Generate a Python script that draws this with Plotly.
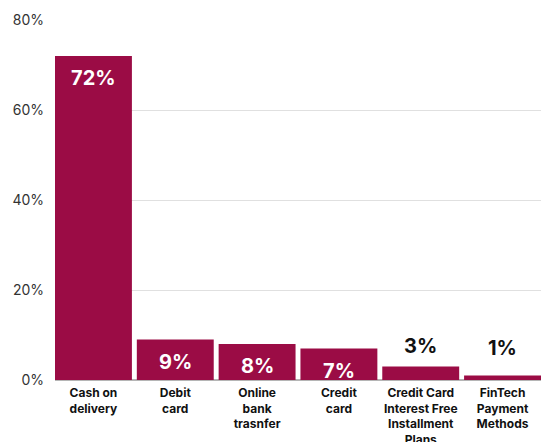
import plotly.graph_objects as go

categories = ["Cash on<br>delivery", "Debit<br>card", "Online<br>bank<br>trasnfer",
              "Credit<br>card", "Credit Card<br>Interest Free<br>Installment<br>Plans",
              "FinTech<br>Payment<br>Methods"]
values = [72, 9, 8, 7, 3, 1]
labels = ["72%", "9%", "8%", "7%", "3%", "1%"]

BAR = "#9B0C45"
FONT = "Inter, Lato, Arial, sans-serif"

fig = go.Figure(go.Bar(x=list(range(len(values))), y=values, marker_color=BAR,
                       marker_line_width=0, width=0.94, hoverinfo="skip"))

ann = []
for i, (v, t) in enumerate(zip(values, labels)):
    inside = v >= 5
    ann.append(dict(x=i, y=v, xref="x", yref="y", text=f"<b>{t}</b>", showarrow=False,
                    yanchor="middle", yshift=-22 if inside else (21 if v >= 2 else 28),
                    font=dict(family=FONT, size=20, color="white" if inside else "#111")))

fig.update_layout(
    width=541, height=442, margin=dict(l=55, r=0, t=20, b=62, autoexpand=False),
    plot_bgcolor="white", paper_bgcolor="white", showlegend=False,
    annotations=ann,
    xaxis=dict(range=[-0.47, 5.47], tickmode="array", tickvals=list(range(len(values))),
               ticktext=[f"<b>{c}</b>" for c in categories], showgrid=False,
               tickfont=dict(family=FONT, size=12, color="#111"), ticks="",
               ticklabelstandoff=4, zeroline=False, automargin=False),
    yaxis=dict(range=[0, 80], tickvals=[0, 20, 40, 60, 80],
               ticktext=["0%", "20%", "40%", "60%", "80%"],
               showgrid=True, gridcolor="#e0e0e0", gridwidth=1,
               zeroline=True, zerolinecolor="#b5b5b5", zerolinewidth=1.5,
               tickfont=dict(family=FONT, size=14, color="#333"), ticks="",
               ticklabelstandoff=10, automargin=False),
)

fig.write_html("out.html")
